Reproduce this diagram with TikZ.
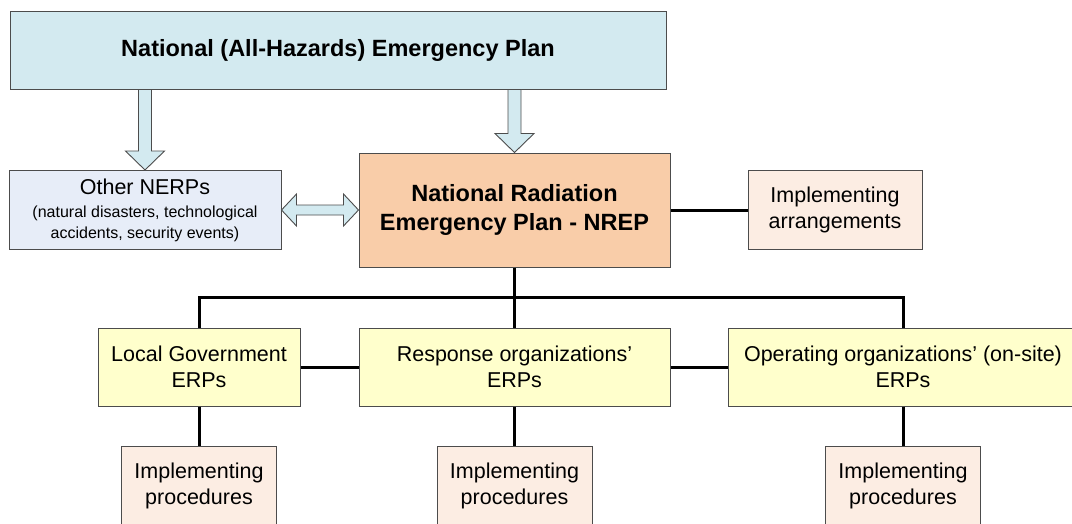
\documentclass[tikz,border=0pt]{standalone}
\usepackage{fontspec}
\setmainfont{Liberation Sans}
\usetikzlibrary{positioning,calc}
\definecolor{PlanCyan}{HTML}{D3EAF0}
\definecolor{NerpBlue}{HTML}{E7EDF8}
\definecolor{NrepPeach}{HTML}{F9CDA9}
\definecolor{ImplPeach}{HTML}{FCEDE3}
\definecolor{ErpYellow}{HTML}{FFFFCC}
\newcommand{\boxfont}{\fontsize{21.5}{26}\selectfont}
\newcommand{\planfont}{\fontsize{23.5}{29}\selectfont\bfseries}
\newcommand{\notefont}{\fontsize{16}{19}\selectfont}
% block arrow pointing down, from tail (#1) to tip (#2)
\newcommand{\downblock}[2]{%
  \path[blockarrow] let \p1=(#1), \p2=(#2) in
    (\x1-6.5pt,\y1) -- (\x1-6.5pt,\y2+19pt) -- (\x1-19.5pt,\y2+19pt)
    -- (\x2,\y2) -- (\x1+19.5pt,\y2+19pt) -- (\x1+6.5pt,\y2+19pt)
    -- (\x1+6.5pt,\y1) -- cycle;}
% two-headed block arrow between left tip (#1) and right tip (#2)
\newcommand{\bothblock}[2]{%
  \path[blockarrow] let \p1=(#1), \p2=(#2) in
    (\x1,\y1) -- (\x1+15pt,\y1+16pt) -- (\x1+15pt,\y1+5pt)
    -- (\x2-15pt,\y1+5pt) -- (\x2-15pt,\y1+16pt) -- (\x2,\y1)
    -- (\x2-15pt,\y1-16pt) -- (\x2-15pt,\y1-5pt) -- (\x1+15pt,\y1-5pt)
    -- (\x1+15pt,\y1-16pt) -- cycle;}

\begin{document}
\begin{tikzpicture}[
  x=1pt,y=-1pt,
  every node/.style={align=center,inner sep=0pt},
  box/.style={draw=black!70,line width=1pt,font=\boxfont},
  natplan/.style={box,fill=PlanCyan,font=\planfont,
    minimum width=656pt,minimum height=78pt},
  nrepbox/.style={box,fill=NrepPeach,font=\planfont,
    minimum width=311pt,minimum height=114pt},
  nerpbox/.style={box,fill=NerpBlue,minimum width=272pt,minimum height=79pt},
  erpbox/.style={box,fill=ErpYellow,minimum height=78pt},
  implbox/.style={box,fill=ImplPeach,minimum width=155pt,minimum height=79pt},
  link/.style={line width=3pt,black},
  blockarrow/.style={draw=black!70,line width=0.9pt,fill=PlanCyan,line join=miter}
]
\useasboundingbox (0,0) rectangle (1072,523);

\node[natplan] (natplan) at (338,50) {National (All-Hazards) Emergency Plan};
\node[nrepbox,below right=63pt and 349pt of natplan.south west] (nrep)
  {National Radiation\\Emergency Plan - NREP};
\node[nerpbox,left=77pt of nrep] (nerps) {Other NERPs\\[-3pt]
  \notefont (natural disasters, technological\\[-5pt]
  \notefont accidents, security events)};
\node[implbox,right=77pt of nrep,minimum width=174pt] (arrange)
  {Implementing\\arrangements};
\node[erpbox,below=60pt of nrep,minimum width=311pt] (response)
  {Response organizations’\\ERPs};
\node[erpbox,left=58pt of response,minimum width=202pt] (localgov)
  {Local Government\\ERPs};
\node[erpbox,right=57pt of response,minimum width=350pt] (operating)
  {Operating organizations’ (on-site)\\ERPs};
\node[implbox,below=39pt of localgov] (proc1) {Implementing\\procedures};
\node[implbox,below=39pt of response] (proc2) {Implementing\\procedures};
\node[implbox,below=39pt of operating] (proc3) {Implementing\\procedures};
\coordinate (bus) at ($(nrep.south)!0.5!(response.north)$);

% block arrows
\downblock{natplan.south -| nerps.north}{nerps.north}
\downblock{natplan.south -| nrep.north}{nrep.north}
\bothblock{nerps.east}{nrep.west}

% plain links
\draw[link] (nrep) -- (arrange);
\draw[link] (nrep.south) -- (response.north);
\draw[link] (localgov.north) |- (bus) -| (operating.north);
\draw[link] (localgov) -- (response);
\draw[link] (response) -- (operating);
\draw[link] (localgov) -- (proc1);
\draw[link] (response) -- (proc2);
\draw[link] (operating) -- (proc3);
\end{tikzpicture}
\end{document}
